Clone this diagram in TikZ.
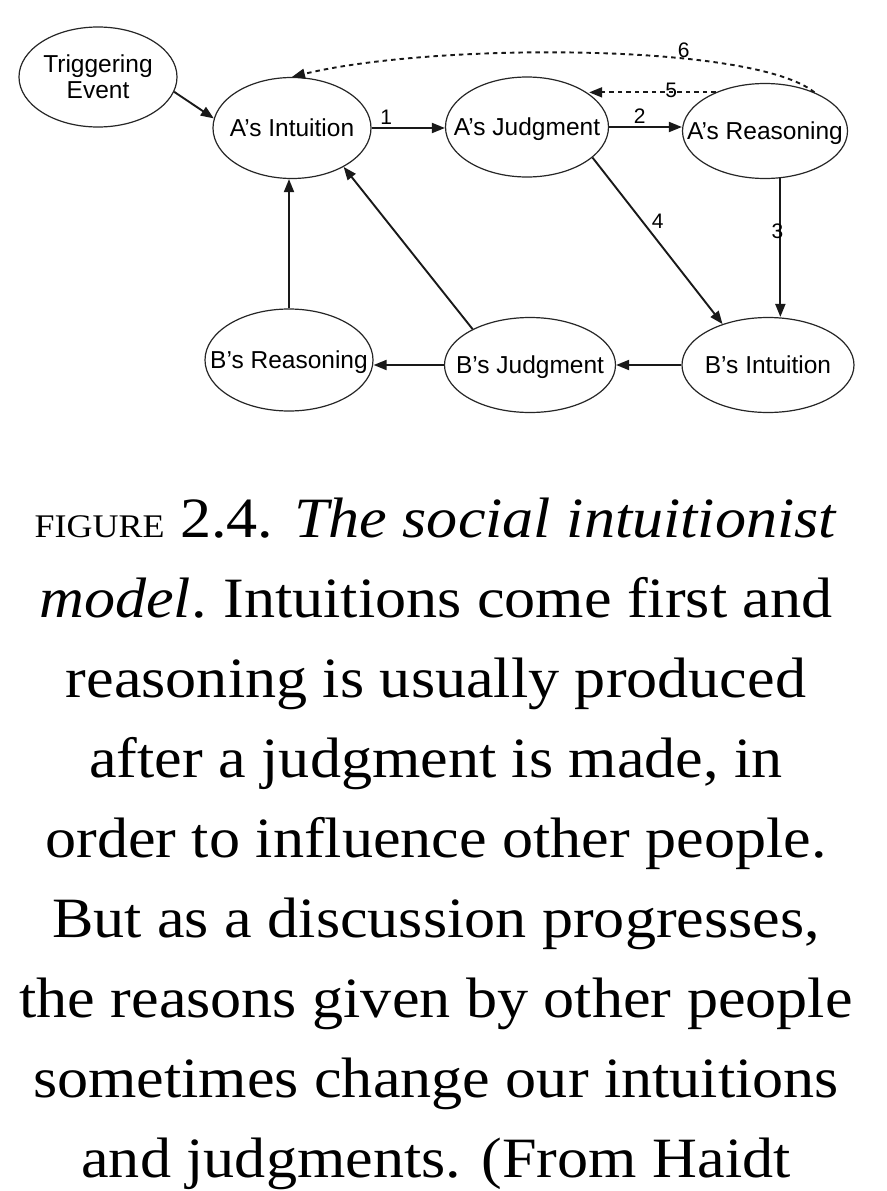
\documentclass[tikz,border=0pt]{standalone}
\usepackage{fontspec}
\setmainfont{Liberation Serif}
\newfontfamily\diagfont{Liberation Sans}
\newfontfamily\capfont[FakeStretch=1.09]{Liberation Serif}
\usetikzlibrary{shapes.geometric,arrows.meta}
\begin{document}
\begin{tikzpicture}[x=1pt,y=-1pt,
  ell/.style={ellipse, draw=black!85, line width=1.2pt, inner sep=0pt},
  lbl/.style={font=\diagfont\fontsize{24.5}{26}\selectfont, align=center, inner sep=0pt},
  lbl1/.style={lbl, text height=17pt, text depth=0pt},
  conn/.style={draw=black!90, line width=1.9pt, -{Triangle[length=13pt,width=10pt]}},
  dconn/.style={conn, dash pattern=on 4.5pt off 4pt},
  num/.style={font=\diagfont\fontsize{21}{21}\selectfont, inner sep=1pt},
  capline/.style={font=\capfont\fontsize{57}{80}\selectfont, anchor=base, inner sep=0pt}
]
\fill[white] (0,0) rectangle (886,1191);
\useasboundingbox (0,0) rectangle (886,1191);

% nodes
\node[ell, minimum width=158pt, minimum height=100pt, label={[lbl]center:Triggering\\Event}] (te) at (98,77) {};
\node[ell, minimum width=158pt, minimum height=101pt, label={[lbl1]center:A’s Intuition}] (ai) at (292,128) {};
\node[ell, minimum width=163pt, minimum height=100pt, label={[lbl1]center:A’s Judgment}] (aj) at (527,127) {};
\node[ell, minimum width=165pt, minimum height=95pt, label={[lbl1]center:A’s Reasoning}] (ar) at (765,131) {};
\node[ell, minimum width=168pt, minimum height=102pt, label={[lbl1]center:B’s Reasoning}] (br) at (289,360) {};
\node[ell, minimum width=171pt, minimum height=95pt, label={[lbl1]center:B’s Judgment}] (bj) at (530,365) {};
\node[ell, minimum width=172pt, minimum height=95pt, label={[lbl1]center:B’s Intuition}] (bi) at (768,365) {};

% connectors
\draw[conn] (te.-11) -- (ai.173);
\draw[conn] (ai.east) -- node[num, pos=0.2, above=2pt] {1} (ai.east -| aj.west);
\draw[conn] (aj.east) -- node[num, pos=0.42, above=2pt] {2} (aj.east -| ar.west);
\draw[conn] (ar.-72) -- node[num, pos=0.38, left=-5pt] {3} (ar.-72 |- bi.north);
\draw[conn] (aj.-25) -- node[num, pos=0.38, right=8pt] {4} (bi.138);
\draw[conn] (bi.west) -- (bi.west -| bj.east);
\draw[conn] (bj.west) -- (bj.west -| br.east);
\draw[conn] (br.north) -- (br.north |- ai.south);
\draw[conn] (bj.148) -- (ai.-37);
\draw[dconn] (ar.142) -- node[num, pos=0.35, above=-7pt] {5} (ar.142 -| aj.28);
\draw[dconn] (ar.38) .. controls (752,42) and (430,43) .. node[num, pos=0.33, above=-1pt] {6} (ai.north);

% caption
\node[capline] (c1) at (436,537) {{\fontsize{33}{33}\selectfont FIGURE} 2.4. \textit{The social intuitionist}};
\node[capline] (c2) at (436,617) {\textit{model}.\kern-4pt{} Intuitions come first and};
\node[capline] (c3) at (436,697) {reasoning is usually produced};
\node[capline] (c4) at (436,777) {after a judgment is made, in};
\node[capline] (c5) at (436,857) {order to influence other people.};
\node[capline] (c6) at (436,937) {But as a discussion progresses,};
\node[capline] (c7) at (436,1017) {the reasons given by other people};
\node[capline] (c8) at (436,1097) {sometimes change our intuitions};
\node[capline] (c9) at (436,1177) {and judgments. (From Haidt};
\end{tikzpicture}
\end{document}
